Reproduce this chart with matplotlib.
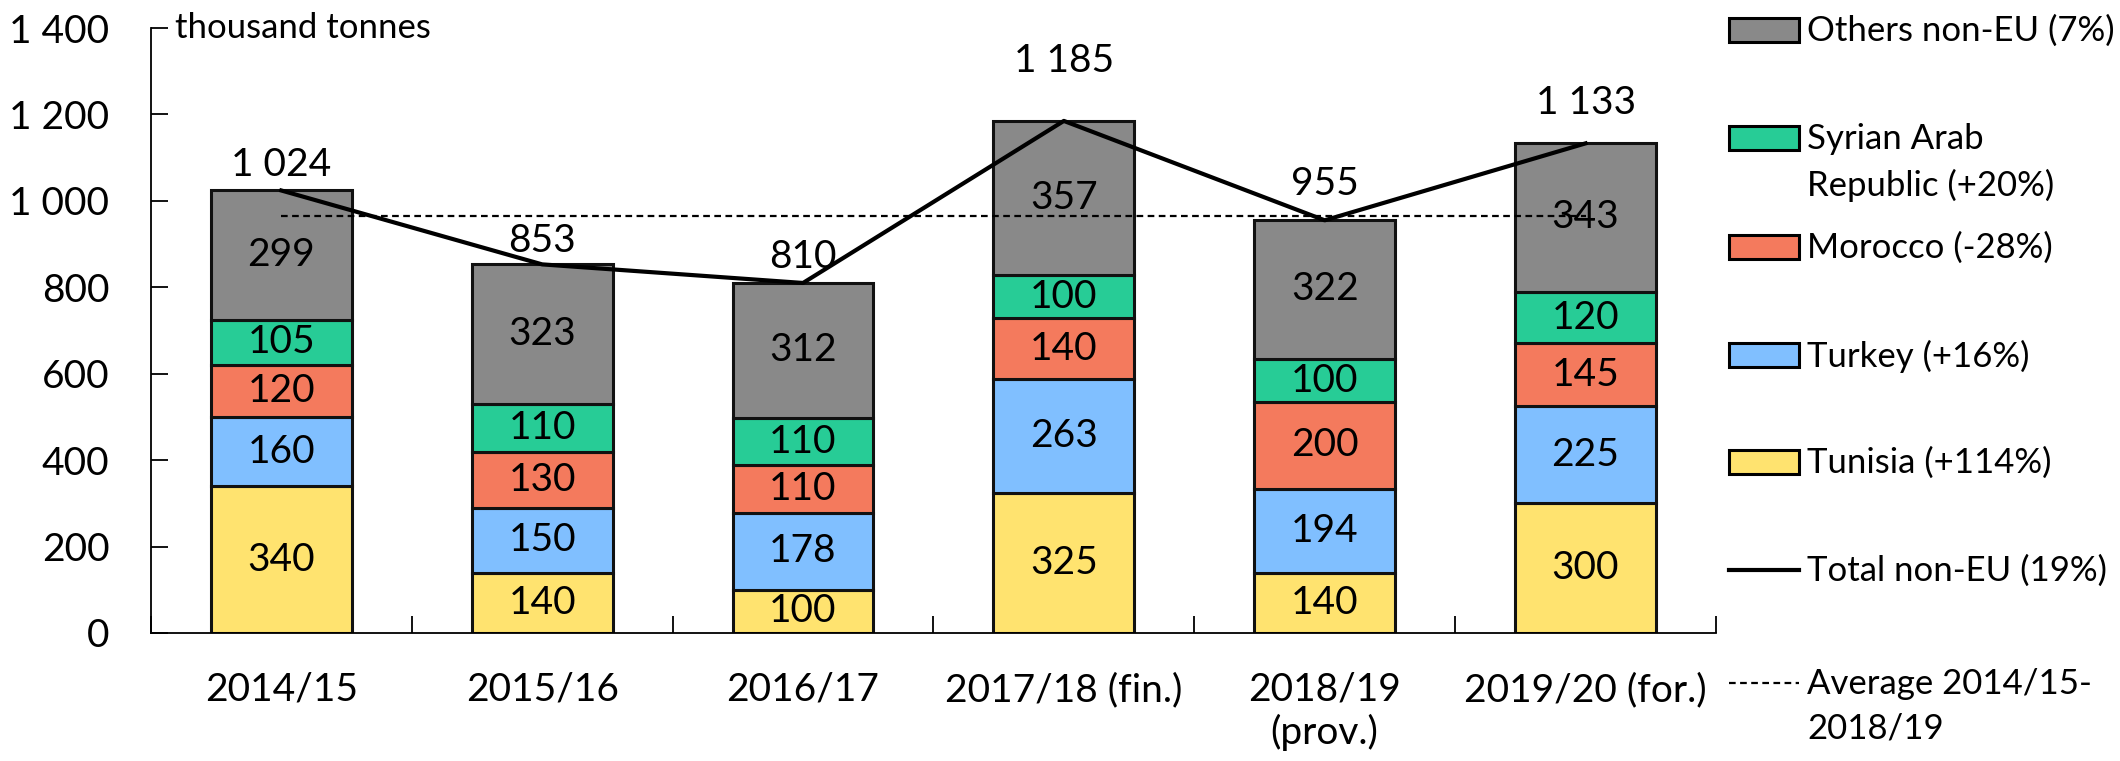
import numpy as np
import matplotlib.pyplot as plt
from matplotlib.patches import Rectangle
from matplotlib.lines import Line2D

plt.rcParams['font.family'] = ['Lato', 'DejaVu Sans']

seasons = ['2014/15', '2015/16', '2016/17', '2017/18 (fin.)', '2018/19\n(prov.)', '2019/20 (for.)']
tunisia = [340, 140, 100, 325, 140, 300]
turkey = [160, 150, 178, 263, 194, 225]
morocco = [120, 130, 110, 140, 200, 145]
syria = [105, 110, 110, 100, 100, 120]
others = [299, 323, 312, 357, 322, 343]
totals = [1024, 853, 810, 1185, 955, 1133]
total_labels = ['1 024', '853', '810', '1 185', '955', '1 133']
label_lift = [59, 54, 60, 139, 84, 94]   # how far above the point Excel put each total label

series = [tunisia, turkey, morocco, syria, others]
colors = ['#FFE36F', '#80BFFF', '#F47A5D', '#27CC96', '#898989']
names = ['Tunisia (+114%)', 'Turkey (+16%)', 'Morocco (-28%)',
         'Syrian Arab\nRepublic (+20%)', 'Others non-EU (7%)']

avg = np.mean(totals[:5])

fig = plt.figure(figsize=(21.2, 7.61), dpi=100)
ax = fig.add_axes([0.0712, 0.1682, 0.7382, 0.795])

x = np.arange(len(seasons))
bottom = np.zeros(len(seasons))
for vals, col in zip(series, colors):
    ax.bar(x, vals, 0.54, bottom=bottom, color=col, edgecolor='#111111', linewidth=2.2, zorder=2)
    for xi, b, v in zip(x, bottom, vals):
        ax.text(xi, b + v / 2, str(v), ha='center', va='center', fontsize=28, zorder=4)
    bottom += np.array(vals)

ax.plot(x, totals, color='black', lw=3, zorder=3)
ax.plot([x[0], x[-1]], [avg, avg], color='black', lw=1.6, ls=(0, (3, 2)), zorder=3)
for xi, t, lab, d in zip(x, totals, total_labels, label_lift):
    ax.text(xi, t + d, lab, ha='center', va='center', fontsize=28)

ax.set_xlim(-0.5, len(seasons) - 0.5)
ax.set_ylim(0, 1400)
ax.set_yticks(range(0, 1401, 200))
ax.set_yticklabels([f'{v:,}'.replace(',', ' ') for v in range(0, 1401, 200)], fontsize=28)
ax.set_xticks(x)
ax.set_xticklabels(seasons, fontsize=28, va='top')
ax.set_xticks(np.arange(-0.5, len(seasons)), minor=True)
ax.tick_params(axis='x', which='major', length=0, pad=28)
ax.tick_params(axis='x', which='minor', direction='in', length=12, width=1.3)
ax.tick_params(axis='y', direction='in', length=12, width=1.3, pad=30)
for s in ['top', 'right']:
    ax.spines[s].set_visible(False)
for s in ['left', 'bottom']:
    ax.spines[s].set_linewidth(1.3)

ax.text(0.0155, 1400, 'thousand tonnes', transform=ax.get_yaxis_transform(), ha='left', va='center', fontsize=25)

# legend drawn by hand so the two-line entries keep the key on the first line
leg_y = [30, 138, 247, 355, 462, 570, 683]
leg_names = names[::-1] + ['Total non-EU (19%)', 'Average 2014/15-\n2018/19']
leg_cols = colors[::-1]
W, H = 2120, 761
for i, (yy, nm) in enumerate(zip(leg_y, leg_names)):
    yf = 1 - yy / H
    if i < 5:
        fig.patches.append(Rectangle((1729 / W, yf - 12 / H), 70 / W, 24 / H, transform=fig.transFigure,
                                     facecolor=leg_cols[i], edgecolor='black', lw=2.2))
    elif i == 5:
        fig.lines.append(Line2D([1729 / W, 1799 / W], [yf, yf], transform=fig.transFigure, color='black', lw=3))
    else:
        fig.lines.append(Line2D([1729 / W, 1799 / W], [yf, yf], transform=fig.transFigure, color='black',
                                lw=1.6, ls=(0, (3, 2))))
    fig.text(1807 / W, yf + 15 / H, nm, ha='left', va='top', fontsize=25, linespacing=1.5)

fig.savefig('out.png', dpi=100)
